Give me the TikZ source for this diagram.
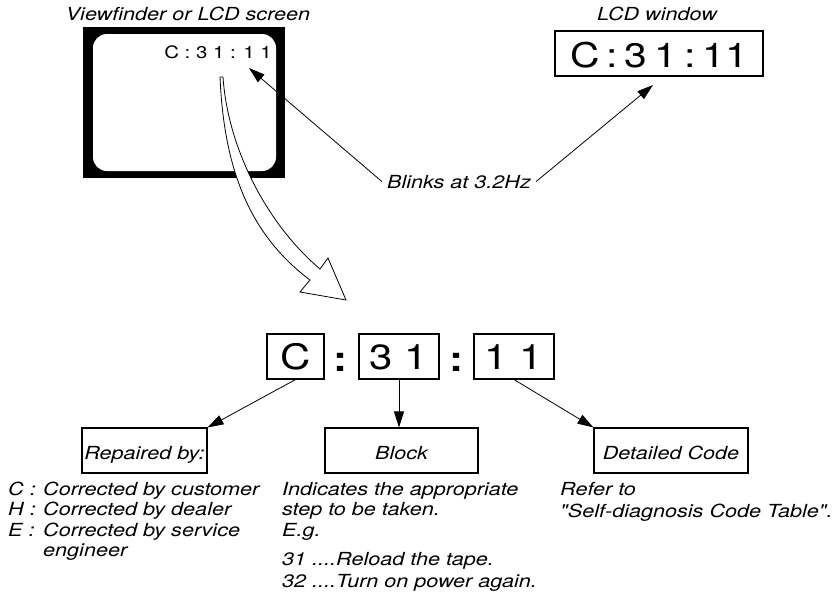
\documentclass[tikz,border=0pt]{standalone}
\usepackage{fontspec}
\setmainfont{TeX Gyre Heros}[FakeStretch=1.2, Ligatures=TeXOff]
\usetikzlibrary{arrows.meta}
\begin{document}
\begin{tikzpicture}[x=1pt,y=-1pt,
  body/.style={font=\fontsize{18}{20}\selectfont\itshape, inner sep=0pt, anchor=base west},
  title/.style={font=\fontsize{18}{20}\selectfont\itshape, inner sep=0pt, anchor=base},
  codebox/.style={draw, line width=1.1pt, inner sep=0pt, font=\fontsize{35}{38}\selectfont, text height=25pt, text depth=0pt, minimum height=45pt},
  labbox/.style={draw, line width=1.1pt, inner sep=0pt, font=\fontsize{18}{20}\selectfont\itshape, text height=17pt, text depth=0pt, minimum height=45pt},
  colon/.style={font=\fontsize{35}{38}\selectfont\bfseries, inner sep=0pt, anchor=base},
  arr/.style={-{Triangle[length=16pt,width=10pt]}, line width=0.8pt},
]
\useasboundingbox (0,0) rectangle (837,595);

% titles
\node[title] (vftitle) at (188,20) {Viewfinder or LCD screen};
\node[title] (lcdtitle) at (657,20) {LCD window};

% viewfinder frame
\fill[black] (83,27) rectangle (285,178);
\fill[white, rounded corners=14pt] (93,34) rectangle (276,171);
\node[font=\fontsize{17}{20}\selectfont, inner sep=0pt, anchor=base] (vfcode) at (218,58) {C : 3 1 : 1 1};

% LCD window
\node[draw, line width=1.1pt, inner sep=0pt, minimum width=208pt, minimum height=45pt,
      font=\fontsize{34}{36}\selectfont, text height=27pt, text depth=0pt] (lcd) at (659,53.5)
      {C\hspace{7pt}:\hspace{7pt}3\hspace{7pt}1\hspace{7pt}:\hspace{7pt}11};

% blinks
\node[title, inner xsep=5pt] (blinks) at (459,188) {Blinks at 3.2Hz};
\coordinate (tipA) at (249,68);
\coordinate (tipB) at (653,85);
\draw[arr] (blinks.west) -- (tipA);
\draw[arr] (blinks.east) -- (tipB);

% hollow curved arrow
\draw[fill=white, line width=0.8pt, line join=miter]
  (220,77) .. controls (224,170) and (250,235) .. (310,280)
  -- (300,292) -- (346,300) -- (328,258) -- (320,269)
  .. controls (268,225) and (228,150) .. (223,77) -- cycle;

% code boxes
\node[codebox, minimum width=57pt] (cbox) at (295.5,356.5) {C};
\node[codebox, minimum width=80pt] (bbox) at (399,356.5) {3 1};
\node[codebox, minimum width=80pt] (dbox) at (514,356.5) {1 1};
\node[colon] (col1) at (340.5,371) {:};
\node[colon] (col2) at (456.5,371) {:};

% label boxes
\node[labbox, minimum width=125pt] (rep) at (144.5,450.5) {Repaired by:};
\node[labbox, minimum width=153pt] (blk) at (401.5,450.5) {Block};
\node[labbox, minimum width=154pt] (det) at (671,450.5) {Detailed Code};

\draw[arr] (cbox.south) -- (rep.north east);
\draw[arr] (bbox.south) -- (bbox.south |- blk.north);
\draw[arr] (dbox.south) -- (det.north west);

% left list
\node[body] (l1a) at (8,495) {C :};
\node[body] (l1b) at (43,495) {Corrected by customer};
\node[body] (l2a) at (8,515.5) {H :};
\node[body] (l2b) at (43,515.5) {Corrected by dealer};
\node[body] (l3a) at (8,536) {E :};
\node[body] (l3b) at (43,536) {Corrected by service};
\node[body] (l4b) at (43,556.5) {engineer};

% block text
\node[body] (m1) at (282,495) {Indicates the appropriate};
\node[body] (m2) at (282,515.5) {step to be taken.};
\node[body] (m3) at (282,536) {E.g.};
\node[body] (m4) at (282,565) {31 ....Reload the tape.};
\node[body] (m5) at (282,587) {32 ....Turn on power again.};

% detailed text
\node[body] (r1) at (560,495) {Refer to};
\node[body] (r2) at (560,517) {"Self-diagnosis Code Table".};
\end{tikzpicture}
\end{document}
